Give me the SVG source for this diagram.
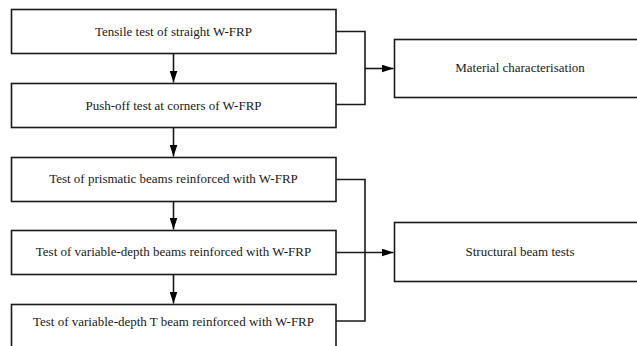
<svg xmlns="http://www.w3.org/2000/svg" width="637" height="346" viewBox="0 0 637 346">
<defs>
<style>
.box{fill:#fff;stroke:#1a1a1a;stroke-width:1.6}
.lbl{font-family:"Liberation Serif","Times New Roman",serif;font-size:13px;fill:#1a1a1a;text-anchor:middle;dominant-baseline:central}
.con{fill:none;stroke:#1a1a1a;stroke-width:1.6}
</style>
<marker id="ah" viewBox="0 0 12 8" refX="12" refY="4" markerWidth="12" markerHeight="8" markerUnits="userSpaceOnUse" orient="auto">
<path d="M0,0 L12,4 L0,8 Z" fill="#000"/>
</marker>
</defs>
<rect width="637" height="346" fill="#fff"/>
<g id="connectors">
<path class="con" d="M173.5,53.5 V82.5" marker-end="url(#ah)"/>
<path class="con" d="M173.5,127.5 V156.5" marker-end="url(#ah)"/>
<path class="con" d="M173.5,201.5 V229.5" marker-end="url(#ah)"/>
<path class="con" d="M173.5,274.5 V303.5" marker-end="url(#ah)"/>
<path class="con" d="M336,31.5 H365 V104.5 H336"/>
<path class="con" d="M365,68.5 H393.5" marker-end="url(#ah)"/>
<path class="con" d="M336,179.5 H365 V321 H336"/>
<path class="con" d="M336,252.5 H393.5" marker-end="url(#ah)"/>
</g>
<g id="n1"><rect class="box" x="11.5" y="9.5" width="324.5" height="44"/><text class="lbl" x="173.5" y="31.5">Tensile test of straight W-FRP</text></g>
<g id="n2"><rect class="box" x="11.5" y="83.5" width="324.5" height="44"/><text class="lbl" x="173.5" y="105">Push-off test at corners of W-FRP</text></g>
<g id="n3"><rect class="box" x="11.5" y="157.5" width="324.5" height="44"/><text class="lbl" x="173.5" y="178.5">Test of prismatic beams reinforced with W-FRP</text></g>
<g id="n4"><rect class="box" x="11.5" y="230.5" width="324.5" height="44"/><text class="lbl" x="173.5" y="251.5">Test of variable-depth beams reinforced with W-FRP</text></g>
<g id="n5"><rect class="box" x="11.5" y="304.5" width="324.5" height="60"/><text class="lbl" x="173.5" y="321">Test of variable-depth T beam reinforced with W-FRP</text></g>
<g id="m1"><rect class="box" x="394.5" y="39.5" width="260" height="58"/><text class="lbl" x="520" y="67.5">Material characterisation</text></g>
<g id="m2"><rect class="box" x="394.5" y="222.5" width="260" height="59"/><text class="lbl" x="520" y="251.5">Structural beam tests</text></g>
</svg>
